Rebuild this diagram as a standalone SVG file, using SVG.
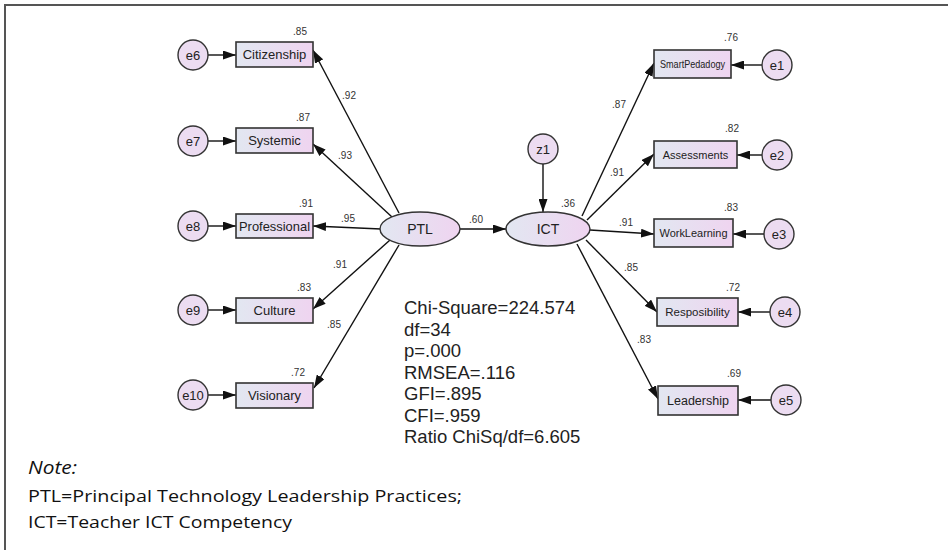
<svg xmlns="http://www.w3.org/2000/svg" width="948" height="550" viewBox="0 0 948 550">
<defs>
<linearGradient id="g" x1="0" y1="0" x2="1" y2="0">
<stop offset="0" stop-color="#e2e7f1"/>
<stop offset="1" stop-color="#efd4f0"/>
</linearGradient>
<marker id="ar" viewBox="0 0 13 9" refX="13" refY="4.5" markerWidth="13" markerHeight="9" markerUnits="userSpaceOnUse" orient="auto">
<path d="M0,0 L13,4.5 L0,9 z" fill="#111"/>
</marker>
</defs>
<style>
.box{fill:url(#g);stroke:#333;stroke-width:1.6}
.lat{fill:url(#g);stroke:#333;stroke-width:1.4}
.err{fill:#ecdcf1;stroke:#333;stroke-width:1.4}
.lbl{font-family:"Liberation Sans",Arial,sans-serif;font-size:13px;fill:#222;text-anchor:middle;dominant-baseline:central}
.num{font-family:"Liberation Sans",Arial,sans-serif;font-size:10px;fill:#333;text-anchor:middle;dominant-baseline:central}
.fit{font-family:"Liberation Sans",Arial,sans-serif;font-size:18.5px;fill:#222}
.note{font-family:"Open Sans","Liberation Sans",sans-serif;font-size:17px;fill:#111}
.c line{stroke:#111;stroke-width:1.4;marker-end:url(#ar)}
</style>
<rect x="0" y="0" width="948" height="550" fill="#fff"/>
<path d="M5,550 V5 H948" fill="none" stroke="#555" stroke-width="2"/>

<g id="connectors" class="c">
<line x1="208" y1="55" x2="236" y2="55"/>
<line x1="208" y1="141" x2="236" y2="141"/>
<line x1="208" y1="226" x2="236" y2="226"/>
<line x1="208" y1="310" x2="236" y2="310"/>
<line x1="208" y1="395" x2="236" y2="395"/>
<line x1="399" y1="213" x2="313" y2="50"/>
<line x1="392" y1="217" x2="313" y2="144"/>
<line x1="381" y1="229" x2="313" y2="226"/>
<line x1="390" y1="240" x2="313" y2="309"/>
<line x1="399" y1="245" x2="314" y2="388"/>
<line x1="460" y1="229" x2="506" y2="229"/>
<line x1="543" y1="164" x2="543" y2="212"/>
<line x1="582" y1="216" x2="654" y2="63"/>
<line x1="587" y1="220" x2="654" y2="154"/>
<line x1="590" y1="230" x2="654" y2="234"/>
<line x1="586" y1="240" x2="657" y2="312"/>
<line x1="577" y1="244" x2="658" y2="399"/>
<line x1="762" y1="65" x2="731" y2="65"/>
<line x1="762" y1="155" x2="737" y2="155"/>
<line x1="764" y1="234" x2="733" y2="234"/>
<line x1="770" y1="312" x2="738" y2="312"/>
<line x1="771" y1="400" x2="738" y2="400"/>
</g>

<g id="e6"><circle class="err" cx="193" cy="55" r="15"/><text class="lbl" x="193" y="55">e6</text></g>
<g id="e7"><circle class="err" cx="193" cy="141" r="15"/><text class="lbl" x="193" y="141">e7</text></g>
<g id="e8"><circle class="err" cx="193" cy="226" r="15"/><text class="lbl" x="193" y="226">e8</text></g>
<g id="e9"><circle class="err" cx="193" cy="310" r="15"/><text class="lbl" x="193" y="310">e9</text></g>
<g id="e10"><circle class="err" cx="193" cy="395" r="15"/><text class="lbl" x="193" y="395">e10</text></g>

<g id="Citizenship"><rect class="box" x="236" y="42" width="77" height="25"/><text class="lbl" x="274.5" y="54.5">Citizenship</text><text class="num" x="300" y="31">.85</text></g>
<g id="Systemic"><rect class="box" x="236" y="128" width="77" height="25"/><text class="lbl" x="274.5" y="140.5">Systemic</text><text class="num" x="303" y="117">.87</text></g>
<g id="Professional"><rect class="box" x="236" y="214" width="77" height="24"/><text class="lbl" x="274.5" y="226" textLength="71" lengthAdjust="spacingAndGlyphs">Professional</text><text class="num" x="306" y="203">.91</text></g>
<g id="Culture"><rect class="box" x="236" y="298" width="77" height="25"/><text class="lbl" x="274.5" y="310.5">Culture</text><text class="num" x="304" y="287">.83</text></g>
<g id="Visionary"><rect class="box" x="236" y="383" width="77" height="25"/><text class="lbl" x="274.5" y="395.5">Visionary</text><text class="num" x="298" y="372">.72</text></g>

<g id="PTL"><ellipse class="lat" cx="420" cy="229" rx="40" ry="17"/><text class="lbl" x="420" y="229" style="font-size:14px">PTL</text></g>
<g id="ICT"><ellipse class="lat" cx="548" cy="229" rx="42" ry="17"/><text class="lbl" x="548" y="229" style="font-size:14px">ICT</text><text class="num" x="568" y="203">.36</text></g>
<g id="z1"><circle class="err" cx="543" cy="149" r="15"/><text class="lbl" x="543" y="149">z1</text></g>

<g id="SmartPedadogy"><rect class="box" x="654" y="50" width="77" height="28"/><text class="lbl" x="692.5" y="64" style="font-size:11px" textLength="65" lengthAdjust="spacingAndGlyphs">SmartPedadogy</text><text class="num" x="731" y="37">.76</text></g>
<g id="Assessments"><rect class="box" x="654" y="141" width="83" height="27"/><text class="lbl" x="695.5" y="154.5" style="font-size:11px">Assessments</text><text class="num" x="732" y="128">.82</text></g>
<g id="WorkLearning"><rect class="box" x="654" y="219" width="79" height="28"/><text class="lbl" x="693.5" y="233" style="font-size:10.5px" textLength="68" lengthAdjust="spacingAndGlyphs">WorkLearning</text><text class="num" x="731" y="207">.83</text></g>
<g id="Resposibility"><rect class="box" x="657" y="298" width="81" height="28"/><text class="lbl" x="697.5" y="312" style="font-size:11.5px">Resposibility</text><text class="num" x="733" y="287">.72</text></g>
<g id="Leadership"><rect class="box" x="658" y="386" width="80" height="29"/><text class="lbl" x="698" y="400.5" style="font-size:12.5px">Leadership</text><text class="num" x="734" y="373">.69</text></g>

<g id="e1"><circle class="err" cx="777" cy="65" r="15"/><text class="lbl" x="777" y="65">e1</text></g>
<g id="e2"><circle class="err" cx="777" cy="155" r="15"/><text class="lbl" x="777" y="155">e2</text></g>
<g id="e3"><circle class="err" cx="779" cy="234" r="15"/><text class="lbl" x="779" y="234">e3</text></g>
<g id="e4"><circle class="err" cx="785" cy="312" r="15"/><text class="lbl" x="785" y="312">e4</text></g>
<g id="e5"><circle class="err" cx="786" cy="400" r="15"/><text class="lbl" x="786" y="400">e5</text></g>

<g id="path-labels">
<text class="num" x="349" y="95">.92</text>
<text class="num" x="345" y="155">.93</text>
<text class="num" x="348" y="218">.95</text>
<text class="num" x="340" y="264">.91</text>
<text class="num" x="334" y="324">.85</text>
<text class="num" x="476" y="219">.60</text>
<text class="num" x="619" y="104">.87</text>
<text class="num" x="617" y="172">.91</text>
<text class="num" x="626" y="222">.91</text>
<text class="num" x="631" y="267">.85</text>
<text class="num" x="644" y="339">.83</text>
</g>

<g id="fit">
<text class="fit" x="404" y="314">Chi-Square=224.574</text>
<text class="fit" x="404" y="335.5">df=34</text>
<text class="fit" x="404" y="357">p=.000</text>
<text class="fit" x="404" y="378.5">RMSEA=.116</text>
<text class="fit" x="404" y="400">GFI=.895</text>
<text class="fit" x="404" y="421.5">CFI=.959</text>
<text class="fit" x="404" y="443">Ratio ChiSq/df=6.605</text>
</g>

<g id="note">
<text class="note" x="28" y="474" style="font-style:italic;font-size:19px" textLength="49" lengthAdjust="spacingAndGlyphs">Note:</text>
<text class="note" x="28" y="502" textLength="434" lengthAdjust="spacingAndGlyphs">PTL=Principal  Technology Leadership  Practices;</text>
<text class="note" x="28" y="528" textLength="264" lengthAdjust="spacingAndGlyphs">ICT=Teacher ICT Competency</text>
</g>
</svg>
